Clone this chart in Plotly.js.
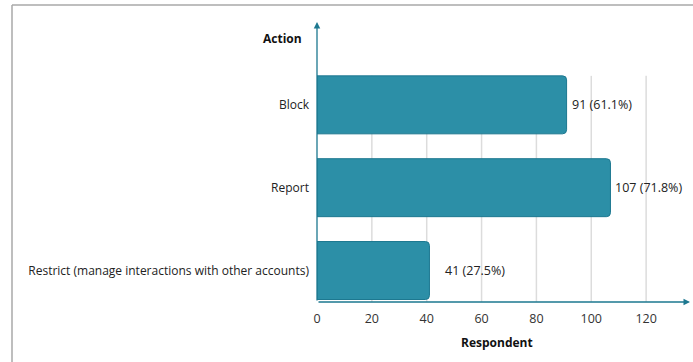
<!DOCTYPE html>
<html>
<head>
<meta charset="utf-8">
<script src="https://cdn.plot.ly/plotly-3.0.1.min.js"></script>
<style>html,body{margin:0;padding:0;background:#fff;}#chart{width:693px;height:362px;}</style>
</head>
<body>
<div id="chart"></div>
<script>
// Data (bottom to top)
const actions = ["Restrict (manage interactions with other accounts)", "Report", "Block"];
const respondents = [41, 107, 91];
const percents = [27.5, 71.8, 61.1];
const xTicks = [0, 20, 40, 60, 80, 100, 120];

const teal = "#2c8fa7";
const tealDark = "#1d7890";
const FONT = "'Open Sans', sans-serif";

const W = 693, H = 362;
const M = {l: 317, r: 3, t: 22, b: 60};
const pw = W - M.l - M.r, ph = H - M.t - M.b;
const px = v => (v - M.l) / pw;       // pixel -> paper x
const py = v => (H - M.b - v) / ph;   // pixel -> paper y

const trace = {
  type: "bar",
  orientation: "h",
  y: actions,
  x: respondents,
  width: 0.7,
  marker: {color: teal, line: {color: tealDark, width: 1}, cornerradius: 4},
  hoverinfo: "skip"
};

const labelShift = [14, 3, 3];
const annotations = respondents.map((v, i) => ({
  x: v, y: actions[i], xref: "x", yref: "y",
  text: v + " (" + percents[i].toFixed(1) + "%)",
  showarrow: false, xanchor: "left", xshift: labelShift[i],
  font: {family: FONT, size: 12.5, color: "#222"}
}));

// axis arrows
annotations.push({
  x: 136, y: 0, xref: "x", yref: "paper",
  ax: 0, ay: 0, axref: "x", ayref: "paper",
  showarrow: true, arrowhead: 2, arrowsize: 1, arrowwidth: 1.3, arrowcolor: tealDark, text: ""
});
annotations.push({
  x: 0, y: 1, xref: "x", yref: "paper",
  ax: 0, ay: 0, axref: "x", ayref: "paper",
  showarrow: true, arrowhead: 2, arrowsize: 1, arrowwidth: 1.3, arrowcolor: tealDark, text: ""
});
// titles
annotations.push({
  x: px(304), y: py(38), xref: "paper", yref: "paper", xanchor: "right", yanchor: "middle",
  text: "<b>Action</b>", showarrow: false, font: {family: FONT, size: 12, color: "#111"}
});
annotations.push({
  x: px(497), y: py(342), xref: "paper", yref: "paper", xanchor: "center", yanchor: "middle",
  text: "<b>Respondent</b>", showarrow: false, font: {family: FONT, size: 12, color: "#111"}
});

const shapes = xTicks.filter(t => t > 0).map(t => ({
  type: "line", xref: "x", yref: "y", x0: t, x1: t, y0: -0.38, y1: 2.35,
  line: {color: "#dcdcdc", width: 1.5}, layer: "below"
}));
// frame
shapes.push({type: "line", xref: "paper", yref: "paper", x0: px(12), x1: px(693), y0: py(5), y1: py(5), line: {color: "#a8a8a8", width: 1.5}});
shapes.push({type: "line", xref: "paper", yref: "paper", x0: px(12), x1: px(12), y0: py(5), y1: py(362), line: {color: "#a8a8a8", width: 1.5}});

const layout = {
  width: W, height: H,
  margin: M,
  paper_bgcolor: "#fff", plot_bgcolor: "#fff",
  showlegend: false,
  font: {family: FONT, size: 12, color: "#222"},
  xaxis: {
    range: [0, 136], tickvals: xTicks, ticktext: xTicks.map(String),
    showgrid: false, zeroline: false, showline: false, ticks: "",
    ticklabelstandoff: 7,
    tickfont: {family: FONT, size: 12.5, color: "#333"}, fixedrange: true
  },
  yaxis: {
    type: "category", range: [-0.38, 3.0], categoryorder: "array", categoryarray: actions,
    showgrid: false, zeroline: false, showline: false, ticks: "",
    ticklabelstandoff: 7,
    tickfont: {family: FONT, size: 12, color: "#222"}, fixedrange: true
  },
  annotations: annotations,
  shapes: shapes
};

Plotly.newPlot("chart", [trace], layout, {displayModeBar: false, staticPlot: true});
</script>
</body>
</html>
